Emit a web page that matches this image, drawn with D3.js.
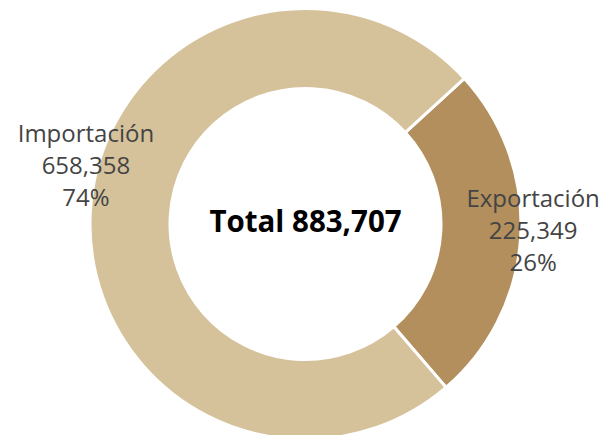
<!DOCTYPE html>
<html lang="es">
  <head>
    <meta charset="UTF-8" />
    <title>Total</title>
    <script src="https://d3js.org/d3.v7.min.js"></script>
    <style>
      body { margin: 0; background: #fff; }
      svg { display: block; font-family: "Open Sans", "Noto Sans", sans-serif; }
      .lbl { fill: #444; font-size: 24px; }
      .total { fill: #000; font-size: 29.5px; font-weight: bold; }
    </style>
  </head>
  <body>
    <svg width="613" height="435"></svg>
    <script>
      const categories = ["Exportación", "Importación"];
      const values = [225349, 658358];
      const colors = ["#b38f5e", "#d5c29b"];

      const svg = d3.select("svg");
      const cx = 305.5, cy = 224;
      const outerR = 215.5, innerR = 135.5;

      const total = d3.sum(values);
      const data = categories.map((c, i) => ({ name: c, value: values[i], color: colors[i] }));

      const start = 47.5 * Math.PI / 180;
      const pie = d3.pie().sort(null).value(d => d.value)
        .startAngle(start).endAngle(start + 2 * Math.PI);

      const arc = d3.arc().innerRadius(innerR).outerRadius(outerR);
      const labelArc = d3.arc().innerRadius(228).outerRadius(228);

      const g = svg.append("g").attr("transform", `translate(${cx},${cy})`);

      const arcs = pie(data);

      g.selectAll("path")
        .data(arcs)
        .join("path")
        .attr("d", arc)
        .attr("fill", d => d.data.color)
        .attr("stroke", "#fff")
        .attr("stroke-width", 3);

      // label nudges so the text blocks sit where the original has them
      const nudge = { "Exportación": [0, -7], "Importación": [8, -45] };
      const fmt = d3.format(",");

      arcs.forEach(d => {
        const [x, y] = labelArc.centroid(d);
        const [nx, ny] = nudge[d.data.name];
        const t = g.append("text")
          .attr("class", "lbl")
          .attr("text-anchor", "middle")
          .attr("x", x + nx)
          .attr("y", y + ny - 32);
        const lines = [d.data.name, fmt(d.data.value), Math.round(d.data.value / total * 100) + "%"];
        lines.forEach((s, i) => {
          t.append("tspan").attr("x", x + nx).attr("dy", i === 0 ? "0.35em" : "32px").text(s);
        });
      });

      g.append("text")
        .attr("class", "total")
        .attr("text-anchor", "middle")
        .attr("y", -2)
        .attr("dy", "0.35em")
        .text("Total " + fmt(total));
    </script>
  </body>
</html>
